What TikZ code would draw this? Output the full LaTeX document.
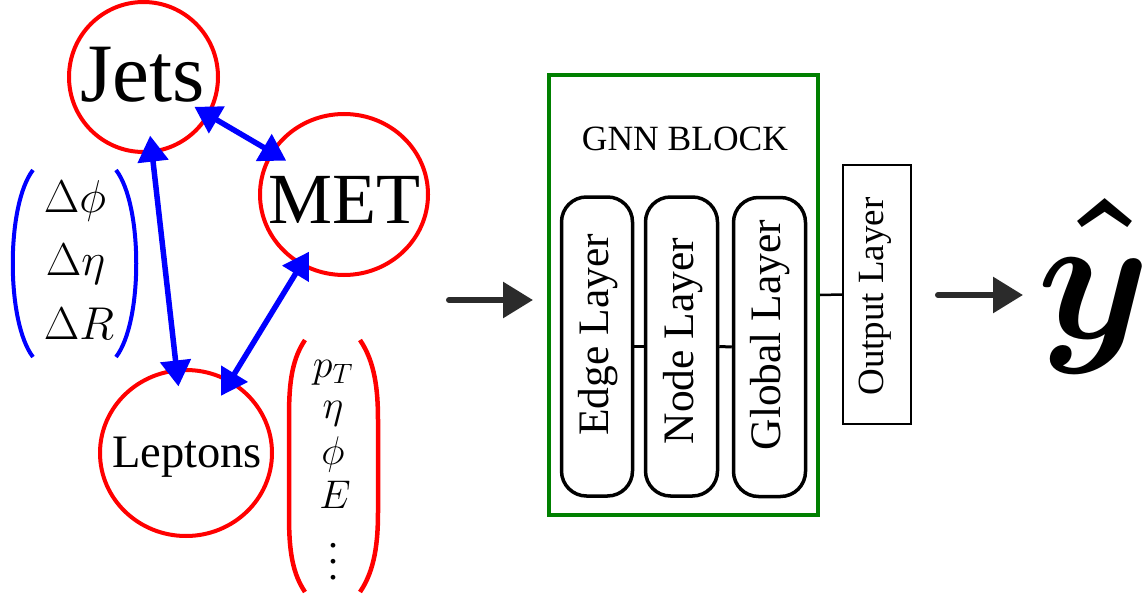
\RequirePackage{fix-cm}
\documentclass[tikz,border=0pt]{standalone}
\usepackage{fontspec}
\setmainfont{Liberation Serif}
\usetikzlibrary{arrows.meta,shapes.geometric}
\definecolor{gnngreen}{RGB}{0,128,0}
\definecolor{flowgray}{RGB}{43,43,43}
\begin{document}
\begin{tikzpicture}[x=1pt,y=-1pt,
  ring/.style={draw=red,line width=4pt,ellipse,inner sep=0pt},
  edgearrow/.style={draw=blue,line width=5.5pt,>={Triangle[length=26pt,width=30pt]},<->},
  flow/.style={draw=flowgray,line width=6pt,line cap=round,-{Triangle[length=30pt,width=35pt]}},
  layerbox/.style={draw,line width=3.5pt,rounded corners=25pt,minimum height=299pt,inner sep=0pt},
  layertext/.style={rotate=90,anchor=base,inner sep=0pt,font=\fontsize{43.5}{48}\selectfont},
  bluepar/.style={draw=blue,line width=4pt},
  redpar/.style={draw=red,line width=4.5pt},
  bluemath/.style={anchor=base,inner sep=0pt,font=\fontsize{46}{50}\selectfont},
  redmath/.style={anchor=base,inner sep=0pt,font=\fontsize{40}{44}\selectfont},
  boldmath/.style={anchor=base,inner sep=0pt,font=\fontsize{180}{200}\selectfont\mathversion{bold}}
]
\useasboundingbox (0,0) rectangle (1148,599);

% graph nodes
\node[ring,minimum width=149pt,minimum height=150pt] (J) at (143.5,77) {};
\node[ring,minimum width=168pt,minimum height=161pt] (M) at (344,194.5) {};
\node[ring,minimum width=172pt,minimum height=166pt] (L) at (186,453) {};
\node[anchor=base,inner sep=0pt,font=\fontsize{83}{90}\selectfont] (Jt) at (142.5,102) {Jets};
\node[anchor=base,inner sep=0pt,font=\fontsize{72}{80}\selectfont] (Mt) at (344,223) {MET};
\node[anchor=base,inner sep=0pt,font=\fontsize{46.5}{50}\selectfont] (Lt) at (187,467) {Leptons};

% edges
\draw[edgearrow,shorten <=59pt,shorten >=67pt] (J.center) -- (M.center);
\draw[edgearrow,shorten <=59pt,shorten >=67pt] (J.center) -- (L.center);
\draw[edgearrow,shorten <=67pt,shorten >=67pt] (M.center) -- (L.center);

% edge features
\draw[bluepar] (33,170) .. controls (6,205) and (6,322) .. (33,357);
\draw[bluepar] (116,170) .. controls (143,205) and (143,322) .. (116,357);
\node[bluemath] (dphi) at (75,212) {$\Delta\phi$};
\node[bluemath] (deta) at (75.5,275) {$\Delta\eta$};
\node[bluemath] (dR) at (79,339) {$\Delta R$};

% node features
\draw[redpar] (305,340) .. controls (290,362) and (289,390) .. (289,420) -- (289,512) .. controls (289,542) and (290,570) .. (305,592);
\draw[redpar] (360,340) .. controls (375,362) and (378,390) .. (378,420) -- (378,512) .. controls (378,542) and (375,570) .. (360,592);
\node[redmath] (pT) at (333,377) {$p_T$};
\node[redmath] (eta) at (333,418) {$\eta$};
\node[redmath] (phi) at (333,464) {$\phi$};
\node[redmath] (En) at (335,508) {$E$};
\node[anchor=base,inner sep=0pt] (dots) at (333,579) {\smash{\scalebox{4}{$\vdots$}}};

% flow arrow in
\coordinate (f1s) at (449,300);
\coordinate (f1e) at (533,300);
\draw[flow] (f1s) -- (f1e);

% GNN block
\node[draw=gnngreen,line width=4pt,minimum width=269pt,minimum height=440pt,inner sep=0pt] (G) at (683.5,295) {};
\node[anchor=base,inner sep=0pt,font=\fontsize{35.5}{40}\selectfont] (Gt) at (685,150) {GNN BLOCK};
\node[layerbox,minimum width=71pt] (Ed) at (597,346.5) {};
\node[layerbox,minimum width=72pt] (Nd) at (681.5,346.5) {};
\node[layerbox,minimum width=72pt] (Gl) at (769.5,347) {};
\node[layertext] (Edt) at (608,335) {Edge Layer};
\node[layertext] (Ndt) at (693,341) {Node Layer};
\node[layertext] (Glt) at (780,335) {Global Layer};
\draw[line width=3pt] (Ed.east) -- (Nd.west);
\draw[line width=3pt] (Nd.east) -- (Gl.west);

% output layer
\node[draw,line width=2pt,minimum width=68pt,minimum height=259pt,inner sep=0pt] (O) at (877,294.5) {};
\node[rotate=90,anchor=base,inner sep=0pt,font=\fontsize{37}{40}\selectfont] (Ot) at (883,296.5) {Output Layer};
\draw[line width=2.5pt] (G.east) -- (O.west);

% flow arrow out
\coordinate (f2s) at (938,295);
\coordinate (f2e) at (1023,295);
\draw[flow] (f2s) -- (f2e);
\node[boldmath] (yhat) at (1105,338) {$\hat{y\mkern2mu\vrule width0pt height0.525em}$};
\end{tikzpicture}
\end{document}
